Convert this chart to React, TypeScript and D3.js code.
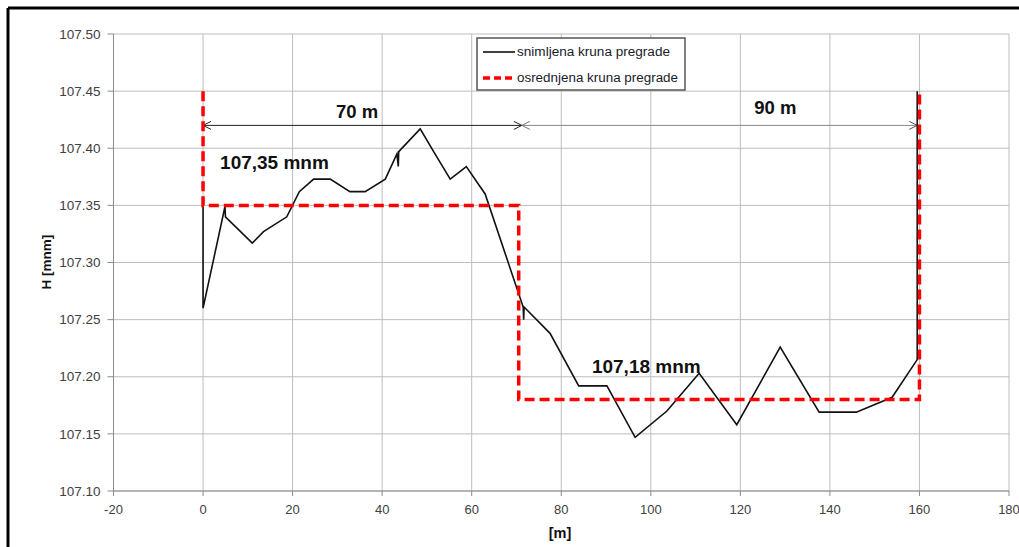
import React from "react";
import * as d3 from "d3";

const xTicks = [-20, 0, 20, 40, 60, 80, 100, 120, 140, 160, 180];
const yTicks = [107.1, 107.15, 107.2, 107.25, 107.3, 107.35, 107.4, 107.45, 107.5];

const profileX = [0, 0, 4.9, 5.0, 11.0, 13.5, 18.7, 21.5, 24.7, 28.4, 32.8, 36.2, 40.7, 43.3, 43.6, 43.7, 48.5, 51.5, 55.2, 58.8, 63.0, 71.5, 71.6, 71.7, 77.5, 83.9, 90.2, 96.5, 103.6, 110.8, 119.2, 128.9, 137.6, 145.9, 153.9, 159.5, 159.5];
const profileH = [107.35, 107.26, 107.349, 107.34, 107.317, 107.327, 107.34, 107.362, 107.373, 107.373, 107.362, 107.362, 107.373, 107.395, 107.384, 107.397, 107.417, 107.397, 107.373, 107.384, 107.36, 107.261, 107.25, 107.261, 107.238, 107.192, 107.192, 107.147, 107.17, 107.203, 107.158, 107.226, 107.169, 107.169, 107.182, 107.215, 107.45];

const avgX = [0, 0, 70.5, 70.5, 160, 160];
const avgH = [107.45, 107.35, 107.35, 107.18, 107.18, 107.45];

const dimH = 107.42;
const dim1 = [0, 71.2];
const dim2 = [71.2, 159.5];

const seriesNames = ["snimljena kruna pregrade", "osrednjena kruna pregrade"];

export default function App() {
  const W = 1019, H = 547;
  const x = d3.scaleLinear().domain([-20, 180]).range([113.5, 1009]);
  const y = d3.scaleLinear().domain([107.1, 107.5]).range([491, 34]);
  const line = d3.line<[number, number]>().x(d => x(d[0])).y(d => y(d[1]));
  const profile = line(profileX.map((v, i) => [v, profileH[i]] as [number, number])) || "";
  const avg = line(avgX.map((v, i) => [v, avgH[i]] as [number, number])) || "";
  const font = "'Liberation Sans', Arial, sans-serif";
  const tickColor = "#404040";
  const dy = y(dimH);

  const arrowHead = (px: number, dir: number, color: string, key: string) => (
    <path key={key} d={`M${px + dir * 8},${dy - 4} L${px},${dy} L${px + dir * 8},${dy + 4}`} fill="none" stroke={color} strokeWidth={1} />
  );

  return (
    <svg width={W} height={H} style={{ position: "absolute", left: 0, top: 0, background: "#fff" }} fontFamily={font}>
      <rect x={0} y={0} width={W} height={H} fill="#fff" />
      {/* frame */}
      <line x1={8} y1={8} x2={W} y2={8} stroke="#000" strokeWidth={3} />
      <line x1={8} y1={8} x2={8} y2={H} stroke="#000" strokeWidth={3} />

      {/* grid */}
      {xTicks.map(t => (
        <line key={"gx" + t} x1={x(t)} x2={x(t)} y1={y(107.5)} y2={y(107.1)} stroke="#bdbdbd" strokeWidth={1} />
      ))}
      {yTicks.map(t => (
        <line key={"gy" + t} x1={x(-20)} x2={x(180)} y1={y(t)} y2={y(t)} stroke="#bdbdbd" strokeWidth={1} />
      ))}
      {/* axes */}
      <line x1={x(-20)} x2={x(-20)} y1={y(107.5)} y2={y(107.1)} stroke="#8a8a8a" strokeWidth={1} />
      <line x1={x(-20)} x2={x(180)} y1={y(107.1)} y2={y(107.1)} stroke="#8a8a8a" strokeWidth={1} />
      {yTicks.map(t => (
        <g key={"ty" + t}>
          <line x1={x(-20) - 6} x2={x(-20)} y1={y(t)} y2={y(t)} stroke="#8a8a8a" />
          <text x={x(-20) - 13} y={y(t)} dy="0.35em" textAnchor="end" fontSize={13.5} fill={tickColor}>{t.toFixed(2)}</text>
        </g>
      ))}
      {xTicks.map(t => (
        <g key={"tx" + t}>
          <line x1={x(t)} x2={x(t)} y1={y(107.1)} y2={y(107.1) + 5} stroke="#8a8a8a" />
          <text x={x(t)} y={y(107.1) + 18} dy="0.35em" textAnchor="middle" fontSize={13} fill={tickColor}>{t}</text>
        </g>
      ))}
      <text x={560} y={533} dy="0.35em" textAnchor="middle" fontSize={14.5} fontWeight="bold" fill="#111">[m]</text>
      <text transform={`translate(46,262) rotate(-90)`} dy="0.35em" textAnchor="middle" fontSize={13.5} fontWeight="bold" fill="#111">H [mnm]</text>

      {/* dimension lines */}
      <line x1={x(dim1[0])} x2={x(dim1[1])} y1={dy} y2={dy} stroke="#222" strokeWidth={1} />
      {arrowHead(x(dim1[0]), 1, "#222", "a1")}
      {arrowHead(x(dim1[1]), -1, "#222", "a2")}
      <line x1={x(dim2[0])} x2={x(dim2[1])} y1={dy} y2={dy} stroke="#888" strokeWidth={1} />
      {arrowHead(x(dim2[0]), 1, "#777", "a3")}
      {arrowHead(x(dim2[1]), -1, "#555", "a4")}

      {/* series */}
      <path d={profile} fill="none" stroke="#111" strokeWidth={1.6} strokeLinejoin="miter" />
      <path d={avg} fill="none" stroke="#ff0000" strokeWidth={3.5} strokeDasharray="10,5" />

      {/* annotations */}
      <text x={x(34.4)} y={112} dy="0.35em" textAnchor="middle" fontSize={18.5} fontWeight="bold" fill="#111">70 m</text>
      <text x={x(127.8)} y={108} dy="0.35em" textAnchor="middle" fontSize={18.5} fontWeight="bold" fill="#111">90 m</text>
      <text x={x(3.8)} y={162} dy="0.35em" fontSize={19} fontWeight="bold" fill="#111">107,35 mnm</text>
      <text x={x(99)} y={366} dy="0.35em" textAnchor="middle" fontSize={19} fontWeight="bold" fill="#111">107,18 mnm</text>

      {/* legend */}
      <rect x={477} y={38} width={208} height={52} fill="#fff" stroke="#555" strokeWidth={1.5} />
      <line x1={483} x2={515} y1={52} y2={52} stroke="#111" strokeWidth={1.6} />
      <text x={517} y={52} dy="0.35em" fontSize={12.5} fill="#1a1a2a" textLength={153} lengthAdjust="spacingAndGlyphs">{seriesNames[0]}</text>
      <line x1={483} x2={515} y1={78} y2={78} stroke="#ff0000" strokeWidth={3.5} strokeDasharray="7,4" />
      <text x={517} y={78} dy="0.35em" fontSize={12.5} fill="#1a1a2a" textLength={161} lengthAdjust="spacingAndGlyphs">{seriesNames[1]}</text>
    </svg>
  );
}
